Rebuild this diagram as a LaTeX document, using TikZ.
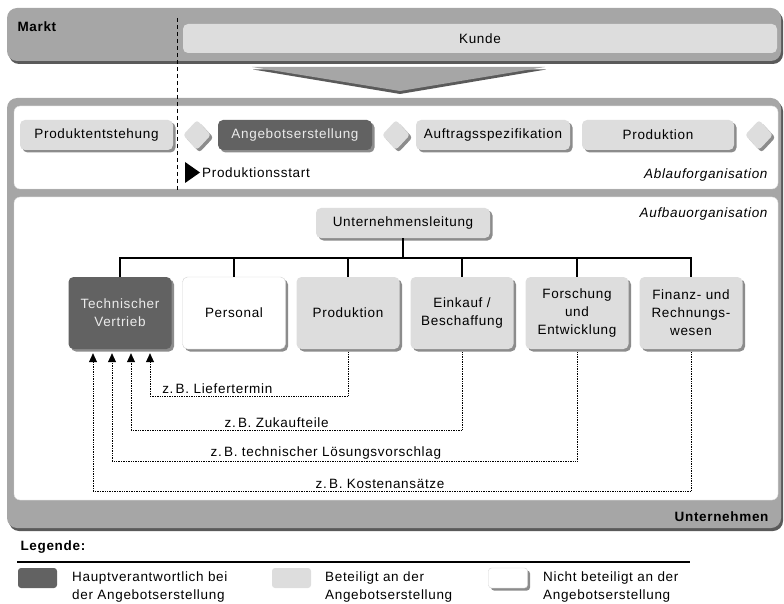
\documentclass[tikz,border=0pt]{standalone}
\usepackage{fontspec}
\setmainfont{Liberation Sans}[LetterSpace=5]
\usetikzlibrary{arrows.meta,shadows,shapes.geometric}

\definecolor{panelgrau}{HTML}{A6A6A6}
\definecolor{panelschatten}{HTML}{5A5A5A}
\definecolor{hellgrau}{HTML}{DDDDDD}
\definecolor{dunkelgrau}{HTML}{626262}
\definecolor{boxschatten}{HTML}{8C8C8C}

\begin{document}
\begin{tikzpicture}[x=1pt, y=-1pt,
  every node/.style={font=\fontsize{13.5}{18}\selectfont},
  schatten/.style={drop shadow={shadow xshift=2.5pt, shadow yshift=-2.5pt, fill=boxschatten, opacity=1}},
  kasten/.style={rounded corners=5pt, inner sep=1pt, align=center, schatten},
  haupt/.style={kasten, fill=dunkelgrau, text=white!92!black},
  beteiligt/.style={kasten, fill=hellgrau},
  nicht/.style={kasten, fill=white, draw=gray!35},
  raute/.style={diamond, minimum width=28pt, minimum height=30pt, inner sep=0pt, rounded corners=3pt, fill=hellgrau, schatten},
  baum/.style={line width=1.5pt},
  info/.style={densely dotted, line width=0.7pt, -{Triangle[length=9pt, width=8pt]}},
  infotext/.style={above, inner sep=2pt},
  titel/.style={font=\fontsize{13.5}{16}\selectfont\bfseries},
  ebene/.style={font=\fontsize{13.5}{16}\selectfont\itshape},
  legendbox/.style={rounded corners=3pt, minimum width=39pt, minimum height=20pt, inner sep=0pt}
]
  \useasboundingbox (0,0) rectangle (784,604);

  % Panneau du marché
  \fill[panelschatten, rounded corners=10pt] (9,11) rectangle (783,64);
  \fill[panelgrau, rounded corners=10pt] (7,8) rectangle (781,61);
  \node[titel, anchor=west] (markt) at (14,27) {Markt};
  \node[rounded corners=5pt, fill=hellgrau, minimum width=594pt, minimum height=29pt] (kunde) at (480,38.5) {Kunde};

  % Entonnoir vers l'entreprise
  \fill[panelschatten] (253,69.5) -- (546,69.5) -- (400,94) -- cycle;
  \fill[panelgrau] (252,67) -- (545,67) -- (400,91) -- cycle;

  % Panneau de l'entreprise
  \fill[panelschatten, rounded corners=10pt] (9,101) rectangle (783,531);
  \fill[panelgrau, rounded corners=10pt] (7,98) rectangle (781,528);
  \filldraw[fill=white, draw=gray!30, rounded corners=6pt] (14,106) rectangle (778,189);
  \filldraw[fill=white, draw=gray!30, rounded corners=6pt] (14,197) rectangle (778,500);
  \node[titel, anchor=east] (untern) at (772,517) {Unternehmen};

  % Ablauforganisation
  \node[beteiligt, minimum width=153pt, minimum height=30pt] (entst) at (96.5,135) {Produktentstehung};
  \node[raute] (raute1) at (197,135) {};
  \node[haupt, minimum width=154pt, minimum height=30pt] (angeb) at (295,135) {Angebotserstellung};
  \node[raute] (raute2) at (396,135) {};
  \node[beteiligt, minimum width=154pt, minimum height=30pt] (auftr) at (493,135) {Auftragsspezifikation};
  \node[beteiligt, minimum width=152pt, minimum height=30pt] (prod) at (658,135) {Produktion};
  \node[raute] (raute3) at (759,135) {};
  \node[ebene, anchor=east] (ablauf) at (771,175) {Ablauforganisation};

  % Début de la production
  \draw[dashed, line width=0.8pt, dash pattern=on 4pt off 3pt] (177,18) -- (177,190);
  \fill (185,162) -- (200,172.5) -- (185,183) -- cycle;
  \node[anchor=west, inner sep=0pt] (start) at (202,172.5) {Produktionsstart};

  % Aufbauorganisation
  \node[ebene, anchor=east] (aufbau) at (771,214) {Aufbauorganisation};
  \node[beteiligt, minimum width=174pt, minimum height=30pt] (leitung) at (403,223) {Unternehmensleitung};
  \node[haupt, minimum width=103pt, minimum height=72pt] (tech) at (120,313) {Technischer\\Vertrieb};
  \node[nicht, minimum width=103pt, minimum height=72pt] (pers) at (234,313) {Personal};
  \node[beteiligt, minimum width=103pt, minimum height=72pt] (prodn) at (348,313) {Produktion};
  \node[beteiligt, minimum width=103pt, minimum height=72pt] (eink) at (462,313) {Einkauf /\\Beschaffung};
  \node[beteiligt, minimum width=103pt, minimum height=72pt] (forsch) at (577,313) {Forschung\\und\\Entwicklung};
  \node[beteiligt, minimum width=103pt, minimum height=72pt] (finanz) at (691,313) {Finanz- und\\Rechnungs-\\wesen};

  \draw[baum] (leitung.south) -- ++(0,20);
  \draw[baum] (tech.north) -- ++(0,-19) -| (finanz.north);
  \foreach \n in {pers,prodn,eink,forsch}
    \draw[baum] (\n.north) -- ++(0,-19);

  % Flux d'information vers le Vertrieb
  \draw[info] ([yshift=-3pt]prodn.south) -- ++(0,44) -| ([xshift=30pt,yshift=-4pt]tech.south)
    node[infotext, pos=0.33] (liefer) {z.\,B. Liefertermin};
  \draw[info] ([yshift=-3pt]eink.south) -- ++(0,78) -| ([xshift=11pt,yshift=-4pt]tech.south)
    node[infotext, pos=0.28] (zukauf) {z.\,B. Zukaufteile};
  \draw[info] ([yshift=-3pt]forsch.south) -- ++(0,109) -| ([xshift=-8pt,yshift=-4pt]tech.south)
    node[infotext, pos=0.27] (loesung) {z.\,B. technischer Lösungsvorschlag};
  \draw[info] ([yshift=-3pt]finanz.south) -- ++(0,139) -| ([xshift=-27pt,yshift=-4pt]tech.south)
    node[infotext, pos=0.26] (kosten) {z.\,B. Kostenansätze};

  % Légende
  \node[titel, anchor=west] (legende) at (17,547) {Legende:};
  \draw[line width=1.6pt] (17,562) -- (690,562);
  \node[legendbox, fill=dunkelgrau] (lhaupt) at (37.5,578) {};
  \node[anchor=west, align=left, inner sep=0pt] (thaupt) at (72,587) {Hauptverantwortlich bei\\der Angebotserstellung};
  \node[legendbox, fill=hellgrau] (lbeteil) at (291.5,578) {};
  \node[anchor=west, align=left, inner sep=0pt] (tbeteil) at (325,587) {Beteiligt an der\\Angebotserstellung};
  \node[legendbox, fill=white, draw=gray!35, schatten] (lnicht) at (508,578) {};
  \node[anchor=west, align=left, inner sep=0pt] (tnicht) at (543,587) {Nicht beteiligt an der\\Angebotserstellung};
\end{tikzpicture}
\end{document}
